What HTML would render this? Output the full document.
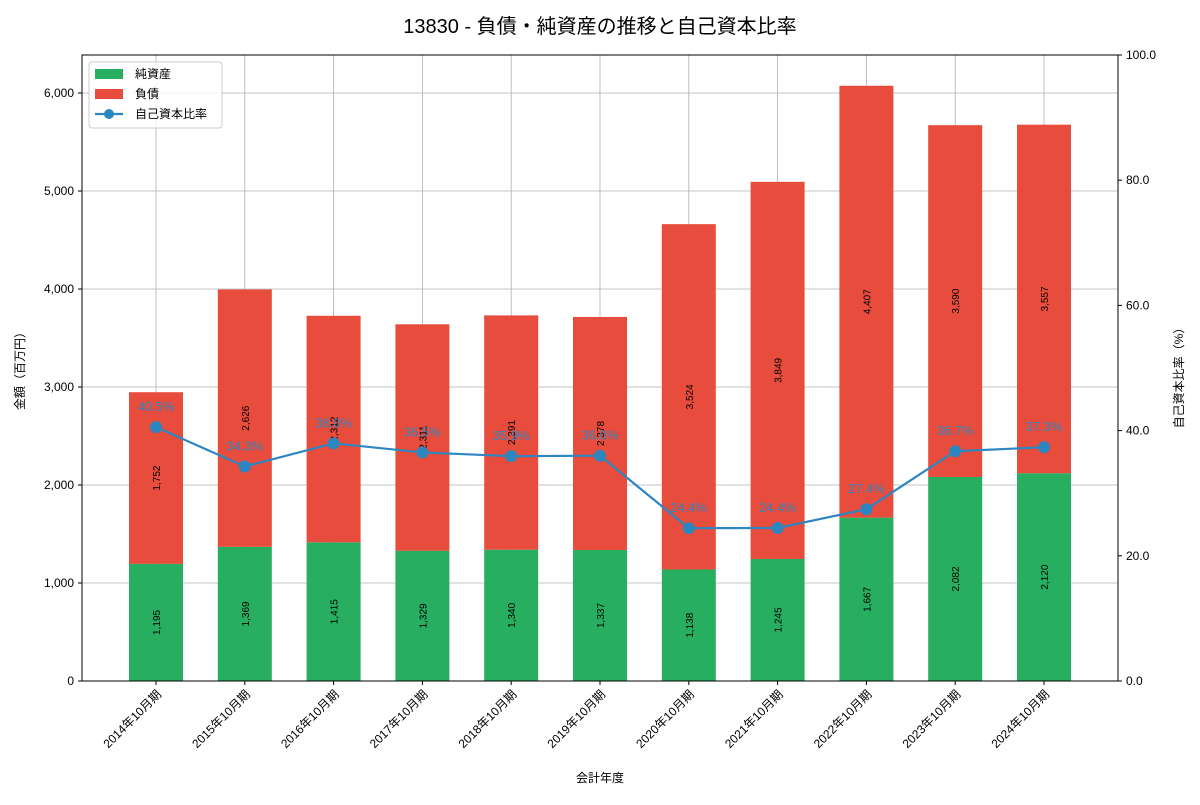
<!DOCTYPE html>
<html><head><meta charset="utf-8">
<style>
body{margin:0;background:#fff;font-family:"Liberation Sans","Noto Sans CJK JP",sans-serif;}
svg text{font-family:"Liberation Sans","Noto Sans CJK JP",sans-serif;}
</style></head>
<body>
<svg id="chart" width="1200" height="800" xmlns="http://www.w3.org/2000/svg">
<text x="600" y="33" font-size="20" text-anchor="middle" fill="#000">13830 - 負債・純資産の推移と自己資本比率</text>
<g id="grid"></g>
<g id="bars"></g>
<g id="line"></g>
<g id="axes"></g>
</svg>
<script>
const categories=["2014年10月期","2015年10月期","2016年10月期","2017年10月期","2018年10月期","2019年10月期","2020年10月期","2021年10月期","2022年10月期","2023年10月期","2024年10月期"];
const equity=[1195,1369,1415,1329,1340,1337,1138,1245,1667,2082,2120];
const debt=[1752,2626,2312,2311,2391,2378,3524,3849,4407,3590,3557];
const leftTicks=[0,1000,2000,3000,4000,5000,6000];
const rightTicks=[0,20,40,60,80,100];

const L=82,R=1118,T=55,B=681;
const yL=v=>B-(v/6388)*(B-T);
const yR=v=>B-(v/100)*(B-T);
const xC=i=>156+i*88.8;
const bw=54;
const NS="http://www.w3.org/2000/svg";
function mk(tag,attrs,parent,txt){const e=document.createElementNS(NS,tag);for(const k in attrs)e.setAttribute(k,attrs[k]);if(txt!==undefined)e.textContent=txt;parent.appendChild(e);return e;}
const fmt=v=>v.toLocaleString('en-US');
const grid=document.getElementById('grid'),bars=document.getElementById('bars'),line=document.getElementById('line'),axes=document.getElementById('axes');

leftTicks.forEach(t=>{
  const g=mk('line',{x1:L,x2:R,y1:yL(t),y2:yL(t),stroke:'#b0b0b0','stroke-width':0.8},grid);
  
  
  const tx=mk('text',{x:L-8,y:yL(t)+4,'font-size':12,'text-anchor':'end'},axes,fmt(t));
  
  
  mk('line',{x1:L-4,x2:L,y1:yL(t),y2:yL(t),stroke:'#000'},axes);
});
categories.forEach((c,i)=>{
  const g=mk('line',{x1:xC(i),x2:xC(i),y1:T,y2:B,stroke:'#b0b0b0','stroke-width':0.8},grid);
  
  
});
rightTicks.forEach(t=>{
  const tx=mk('text',{x:R+8,y:yR(t)+4,'font-size':12},axes,t.toFixed(1));
  
  
  mk('line',{x1:R,x2:R+4,y1:yR(t),y2:yR(t),stroke:'#000'},axes);
});

const pts=[];
categories.forEach((c,i)=>{
  const x=xC(i);
  const e=mk('rect',{x:x-bw/2,y:yL(equity[i]),width:bw,height:B-yL(equity[i]),fill:'#27ae60'},bars);
  
  
  const d=mk('rect',{x:x-bw/2,y:yL(equity[i]+debt[i]),width:bw,height:yL(equity[i])-yL(equity[i]+debt[i]),fill:'#e74c3c'},bars);
  
  
  const ye=(B+yL(equity[i]))/2, yd=(yL(equity[i])+yL(equity[i]+debt[i]))/2;
  const t1=mk('text',{x:x+4,y:ye,'font-size':10,'text-anchor':'middle',transform:`rotate(-90 ${x+4} ${ye})`},bars,fmt(equity[i]));
  
  
  const t2=mk('text',{x:x+4,y:yd,'font-size':10,'text-anchor':'middle',transform:`rotate(-90 ${x+4} ${yd})`},bars,fmt(debt[i]));
  
  
  const lb=mk('text',{x:x+6,y:B+14,'font-size':12,'text-anchor':'end',transform:`rotate(-45 ${x+6} ${B+14})`},axes,c);
  
  
  mk('line',{x1:x,x2:x,y1:B,y2:B+4,stroke:'#000'},axes);
  const r=equity[i]/(equity[i]+debt[i])*100;
  pts.push([x,yR(r),r]);
});
const pl=mk('polyline',{points:pts.map(p=>p[0]+','+p[1]).join(' '),fill:'none',stroke:'#2e86c1','stroke-width':2.2},line);


pts.forEach(p=>{
  const c=mk('circle',{cx:p[0],cy:p[1],r:6,fill:'#2e86c1'},line);
  
  
  const t=mk('text',{x:p[0],y:p[1]-16,'font-size':13,'text-anchor':'middle',fill:'#2e86c1'},line,p[2].toFixed(1)+'%');
  
  
});

const fr=mk('rect',{x:L,y:T,width:R-L,height:B-T,fill:'none',stroke:'#000','stroke-width':1},axes);


const yt=mk('text',{x:24,y:368,'font-size':12,'text-anchor':'middle',transform:'rotate(-90 24 368)'},axes,'金額（百万円）');


const rt=mk('text',{x:1183,y:375,'font-size':12,'text-anchor':'middle',transform:'rotate(-90 1183 375)'},axes,'自己資本比率（%）');


const xt=mk('text',{x:600,y:782,'font-size':12,'text-anchor':'middle'},axes,'会計年度');



const lg=mk('g',{},axes);


mk('rect',{x:89,y:62,width:133,height:66,fill:'#fff','fill-opacity':0.85,stroke:'#ccc',rx:3},lg);
const items=[['純資産','#27ae60','rect'],['負債','#e74c3c','rect'],['自己資本比率','#2e86c1','line']];
items.forEach((it,k)=>{
  const y=74+k*20;
  const g=mk('g',{},lg);
  
  
  if(it[2]==='rect') mk('rect',{x:95,y:y-5,width:28,height:10,fill:it[1]},g);
  else{mk('line',{x1:95,x2:123,y1:y,y2:y,stroke:it[1],'stroke-width':2.2},g);mk('circle',{cx:109,cy:y,r:5,fill:it[1]},g);}
  mk('text',{x:135,y:y+4,'font-size':12},g,it[0]);
});
</script>
</body></html>
